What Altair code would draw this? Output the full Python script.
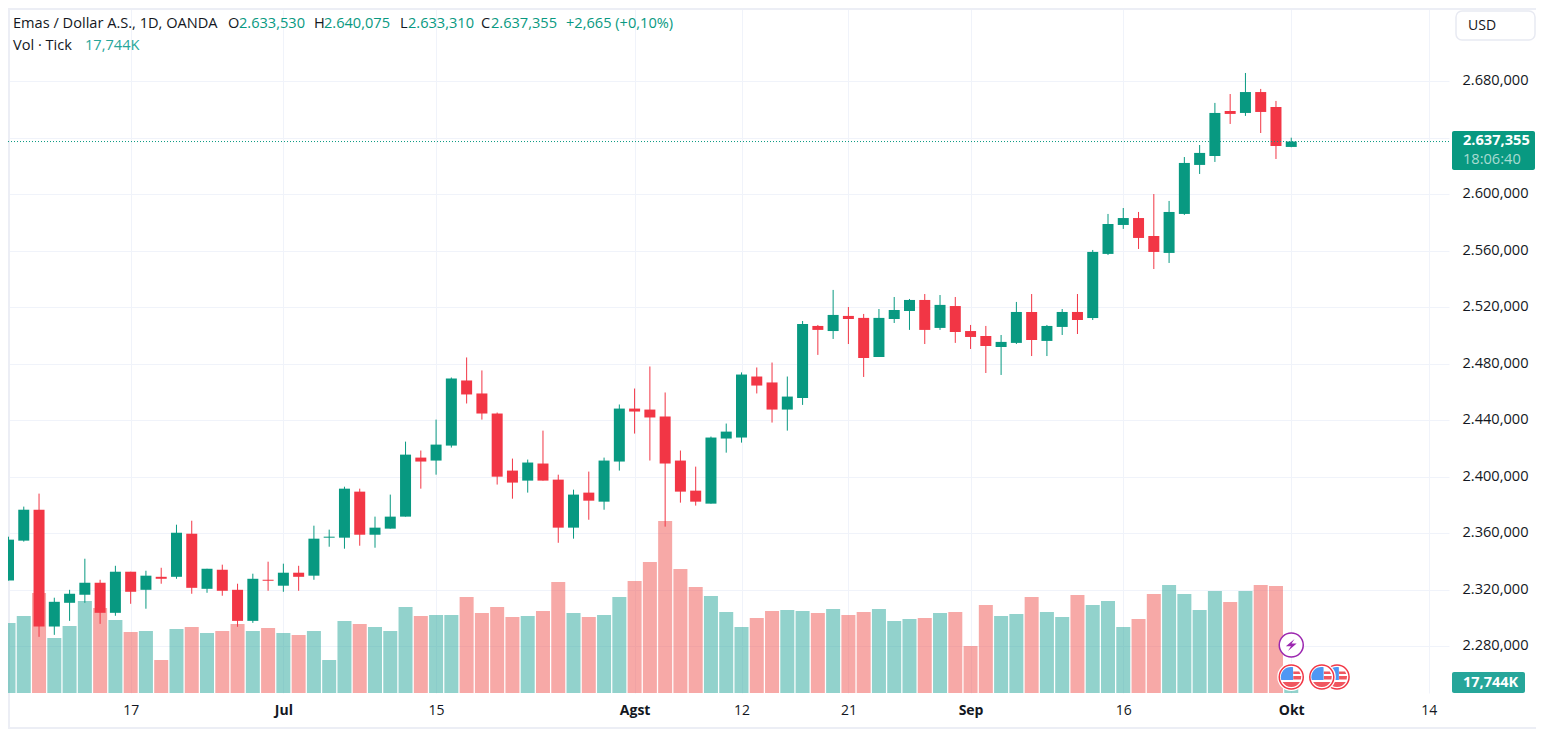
import altair as alt
import pandas as pd

open_ = [2326.6,2354.8,2376.7,2294.0,2310.8,2316.5,2325.0,2303.7,2332.8,2320.0,2329.2,2329.2,2359.7,2320.7,2334.2,2320.0,2298.0,2327.1,2322.9,2332.1,2330.0,2356.9,2356.9,2389.5,2359.0,2363.3,2371.8,2413.6,2411.5,2422.1,2468.2,2459.0,2444.8,2404.4,2397.3,2409.4,2398.0,2364.0,2388.8,2382.4,2410.8,2448.3,2447.6,2442.7,2411.5,2390.2,2381.0,2427.1,2427.8,2471.0,2466.8,2447.6,2455.8,2506.8,2503.2,2513.9,2512.5,2484.8,2511.7,2517.4,2525.2,2505.4,2520.9,2503.2,2499.7,2491.9,2494.8,2516.7,2496.2,2506.1,2516.7,2512.4,2557.8,2578.3,2583.2,2570.5,2558.5,2586.1,2620.8,2627.1,2659.0,2657.6,2672.4,2661.8,2633.53]
close = [2355.5,2376.7,2294.0,2311.5,2317.2,2325.0,2303.7,2332.8,2318.6,2330.0,2327.8,2360.4,2321.4,2334.9,2319.3,2298.0,2327.8,2326.4,2332.1,2329.2,2356.2,2357.6,2391.6,2359.0,2364.0,2371.8,2415.7,2410.8,2422.8,2469.6,2458.3,2444.8,2400.1,2395.9,2410.1,2397.3,2364.0,2387.4,2383.1,2411.5,2448.3,2446.2,2442.0,2409.4,2389.5,2382.4,2427.8,2432.0,2472.4,2464.6,2447.6,2456.8,2508.2,2504.0,2514.6,2511.7,2484.1,2512.5,2518.1,2525.2,2504.0,2521.7,2502.5,2499.0,2492.6,2495.5,2516.7,2496.9,2506.8,2516.7,2511.0,2559.2,2579.0,2583.2,2569.1,2559.2,2587.5,2622.2,2629.3,2657.6,2656.9,2672.4,2658.3,2634.2,2637.355]
high = [2357.6,2378.9,2388.1,2314.4,2320.0,2342.0,2327.1,2337.0,2332.8,2333.5,2335.6,2366.1,2368.9,2334.9,2337.8,2324.3,2331.4,2339.9,2338.5,2337.0,2365.4,2362.6,2393.0,2391.6,2371.8,2387.4,2424.9,2418.6,2440.5,2470.3,2484.5,2475.3,2445.5,2412.9,2412.2,2432.7,2401.5,2390.9,2403.7,2413.6,2451.2,2462.5,2478.1,2459.7,2418.6,2407.2,2428.5,2437.7,2473.9,2477.4,2480.9,2471.0,2510.3,2507.5,2532.3,2520.2,2515.3,2518.8,2527.3,2525.9,2529.4,2528.7,2527.3,2507.5,2506.8,2500.4,2523.8,2529.4,2507.5,2518.8,2529.4,2560.6,2586.1,2590.3,2587.5,2600.2,2595.3,2626.4,2634.9,2664.7,2671.0,2685.9,2674.6,2666.1,2640.075]
low = [2326.6,2354.1,2286.7,2288.1,2298.0,2310.8,2295.9,2301.6,2310.1,2306.6,2324.3,2327.8,2317.2,2317.9,2315.8,2293.8,2296.6,2319.3,2318.6,2319.3,2327.1,2350.5,2349.1,2351.2,2349.8,2363.3,2371.8,2391.6,2401.5,2420.7,2451.9,2440.5,2394.5,2384.5,2388.8,2397.3,2353.3,2356.2,2369.6,2376.7,2404.4,2430.6,2411.5,2364.7,2381.7,2379.6,2381.0,2417.1,2424.2,2459.0,2438.4,2432.7,2450.9,2486.3,2497.6,2494.0,2470.7,2484.8,2508.9,2504.0,2494.0,2504.0,2494.8,2490.5,2473.5,2472.1,2494.0,2485.5,2485.5,2500.4,2501.1,2511.0,2557.0,2575.5,2561.3,2547.1,2551.4,2585.4,2614.4,2622.9,2649.8,2655.5,2643.4,2625.0,2633.31]
volume_k = [112.9,124.2,161.3,88.7,108.1,148.4,137.1,117.8,98.4,100.0,53.2,103.2,106.5,96.8,100.0,111.3,100.0,104.9,96.8,93.6,100.0,53.2,116.1,111.3,106.5,100.0,138.7,124.2,125.8,125.8,154.9,129.0,138.7,122.6,124.2,132.3,179.1,129.0,122.6,125.8,154.9,180.7,211.3,277.5,200.0,171.0,156.5,130.7,106.5,121.0,132.3,133.9,132.3,129.0,135.5,125.8,130.7,135.5,116.1,119.4,121.0,129.0,130.7,75.8,142.0,124.2,127.4,154.9,130.7,122.6,158.1,142.0,148.4,106.5,119.4,159.7,174.2,159.7,133.9,164.5,146.8,164.5,174.2,172.6,17.744]

tick_index = [8, 18, 28, 41, 48, 55, 63, 73, 84, 93]
tick_label = ['17', 'Jul', '15', 'Agst', '12', '21', 'Sep', '16', 'Okt', '14']
month_index = [18, 41, 63, 84]
price_ticks = [2280, 2320, 2360, 2400, 2440, 2480, 2520, 2560, 2600, 2640, 2680]
flag_index = [87, 86, 84]

FONT = "Open Sans"
INK = "#131722"
GRID = "#f0f3fa"
FRAME = "#eceef5"
UP = "#089981"
DOWN = "#f23645"
TS = 14.6

df = pd.DataFrame({"i": range(len(open_)), "open": open_, "close": close, "high": high, "low": low, "vol": volume_k})
df["dir"] = ["up" if c >= o else "down" for o, c in zip(open_, close)]

xs = alt.Scale(domain=[-0.0327, 94.33], nice=False, zero=False, padding=0)
ps = alt.Scale(domain=[2246.94, 2731.9], nice=False, zero=False)
vs = alt.Scale(domain=[0, 1104.9], nice=False, zero=False)
candle_color = alt.Color("dir:N", scale=alt.Scale(domain=["up", "down"], range=[UP, DOWN]), legend=None)
vol_color = alt.Color("dir:N", scale=alt.Scale(domain=["up", "down"], range=["#26a69a", "#ef5350"]), legend=None)

x_names = str(tick_label)
x_axis = alt.Axis(values=tick_index, labelExpr=f"{x_names}[indexof({tick_index}, datum.value)]",
                  title=None, domain=False, ticks=False, grid=True, gridColor=GRID, gridWidth=1,
                  labelColor=INK, labelFont=FONT, labelFontSize=14, labelPadding=10, labelOverlap=False,
                  labelFlush=False, labelAngle=0,
                  labelFontWeight=alt.condition(f"indexof({month_index}, datum.value) >= 0", alt.value("bold"), alt.value("normal")))
y_axis = alt.Axis(values=price_ticks, orient="right", title=None, domain=False, ticks=False, grid=True,
                  gridColor=GRID, gridWidth=1, labelColor=INK, labelFont=FONT, labelFontSize=TS, labelPadding=13,
                  labelOverlap=False, labelOffset=-0.5,
                  labelExpr="datum.value == 2640 ? '' : replace(replace(replace(format(datum.value, ',.3f'), ',', '#'), '.', ','), '#', '.')")

base = alt.Chart(df)
vol = base.mark_bar(size=14, opacity=0.5).encode(
    x=alt.X("i:Q", scale=xs, axis=x_axis),
    y=alt.Y("vol:Q", scale=vs, axis=None),
    y2=alt.Y2(datum=0),
    color=vol_color,
)
guide = alt.Chart(pd.DataFrame({"p": price_ticks})).mark_rule(opacity=0).encode(
    y=alt.Y("p:Q", scale=ps, axis=y_axis))
wick = base.mark_rule(strokeWidth=1).encode(
    x=alt.X("i:Q", scale=xs), y=alt.Y("low:Q", scale=ps, axis=None), y2="high:Q", color=candle_color)
body = base.mark_bar(size=11).encode(
    x=alt.X("i:Q", scale=xs), y=alt.Y("open:Q", scale=ps, axis=None), y2="close:Q", color=candle_color)
last_line = alt.Chart(pd.DataFrame({"p": [close[-1]]})).mark_rule(color=UP, strokeDash=[1, 2], strokeWidth=1).encode(
    y=alt.Y("p:Q", scale=ps, axis=None))

one = pd.DataFrame({"a": [0]})


def px_text(text, x, y, color=INK, size=TS, weight="normal", align="left"):
    return alt.Chart(one).mark_text(text=text, align=align, baseline="middle", color=color, font=FONT,
                                    fontSize=size, fontWeight=weight).encode(
        x=alt.value(x - 8), y=alt.value(y - 7))


def px_box(x0, y0, x1, y1, fill, stroke=None, radius=2):
    kw = {"stroke": stroke, "strokeWidth": 1.5} if stroke else {}
    return alt.Chart(one).mark_rect(color=fill, cornerRadius=radius, **kw).encode(
        x=alt.value(x0 - 8), x2=alt.value(x1 - 8), y=alt.value(y0 - 8), y2=alt.value(y1 - 8))


RED = "#f23645"
flag_x = alt.X("i:Q", scale=xs)
flag_y = alt.value(677 - 8)
flag_parts = []
for fi in flag_index:
    fd = pd.DataFrame({"i": [fi]})
    flag_parts += [
        alt.Chart(fd).mark_point(shape="circle", filled=True, color="white", size=784, opacity=1).encode(x=flag_x, y=flag_y),
        alt.Chart(fd).mark_point(shape="circle", filled=False, fill="white", fillOpacity=1, stroke=RED, strokeWidth=1.5, size=576, opacity=1).encode(x=flag_x, y=flag_y),
        alt.Chart(fd).mark_point(
            shape="M-0.87 0.5 L0.87 0.5 A1 1 0 0 1 -0.87 0.5 Z M0.2 -0.1 L1 -0.1 L0.96 0.25 L0.2 0.25 Z M0.2 -0.55 L0.8 -0.55 L0.92 -0.3 L0.2 -0.3 Z",
            filled=True, color="#f0565f", size=400, opacity=1).encode(x=flag_x, y=flag_y),
        alt.Chart(fd).mark_point(
            shape="M-1 0.3 L0.18 0.3 L0.18 -0.98 A1 1 0 0 0 -1 0.3 Z",
            filled=True, color="#4f97f3", size=400, opacity=1).encode(x=flag_x, y=flag_y),
    ]

bolt_df = pd.DataFrame({"i": [84]})
bolt_ring = alt.Chart(bolt_df).mark_point(shape="circle", filled=False, fill="white", fillOpacity=1, stroke="#9c27b0", strokeWidth=1.5, size=576, opacity=1).encode(
    x=flag_x, y=alt.value(645 - 8))
bolt = alt.Chart(bolt_df).mark_point(shape="M0.55 -1 L-0.9 0.2 L-0.05 0.2 L-0.55 1 L0.9 -0.25 L0.05 -0.25 Z",
                                     filled=True, color="#9c27b0", size=144, opacity=1).encode(
    x=flag_x, y=alt.value(645 - 8))

parts = [px_box(8, 8, 10, 728, FRAME, None, 0), px_box(8, 8, 1536, 10, FRAME, None, 0),
         vol, guide, wick, body, last_line] + flag_parts + [bolt_ring, bolt]

# Header
parts += [
    px_text("Emas / Dollar A.S., 1D, OANDA", 13, 23),
    px_text("O", 228, 23), px_text("2.633,530", 239, 23, UP),
    px_text("H", 314, 23), px_text("2.640,075", 324, 23, UP),
    px_text("L", 400, 23), px_text("2.633,310", 408, 23, UP),
    px_text("C", 481, 23), px_text("2.637,355", 491, 23, UP),
    px_text("+2,665 (+0,10%)", 566, 23, UP),
    px_text("Vol · Tick", 13, 45), px_text("17,744K", 85, 45, "#26a69a"),
]
# Right-hand tags
parts += [
    px_box(1452, 131, 1535, 170, UP),
    px_text("2.637,355", 1463, 140, "white", TS, "bold"),
    px_text("18:06:40", 1463, 159, "#a8dcd2", TS),
    px_box(1452, 672, 1525, 693, "#26a69a"),
    px_text("17,744K", 1463, 682, "white", 14.5, "bold"),
    px_box(1456, 11, 1535, 40, "white", "#e8eaf2", 6),
    px_text("USD", 1468, 24.5, INK, 14),
    # frame
    px_box(8, 727, 1536, 729, FRAME, None, 0),
]

chart = alt.layer(*parts).resolve_scale(y="independent", color="independent").properties(
    width=1441, height=685,
    padding={"left": 0, "top": 0, "right": 87, "bottom": 36},
    autosize=alt.AutoSizeParams(type="none"),
    background="white",
).configure_view(stroke=None)

chart.save("out.html", embed_options={"renderer": "svg", "actions": False})
